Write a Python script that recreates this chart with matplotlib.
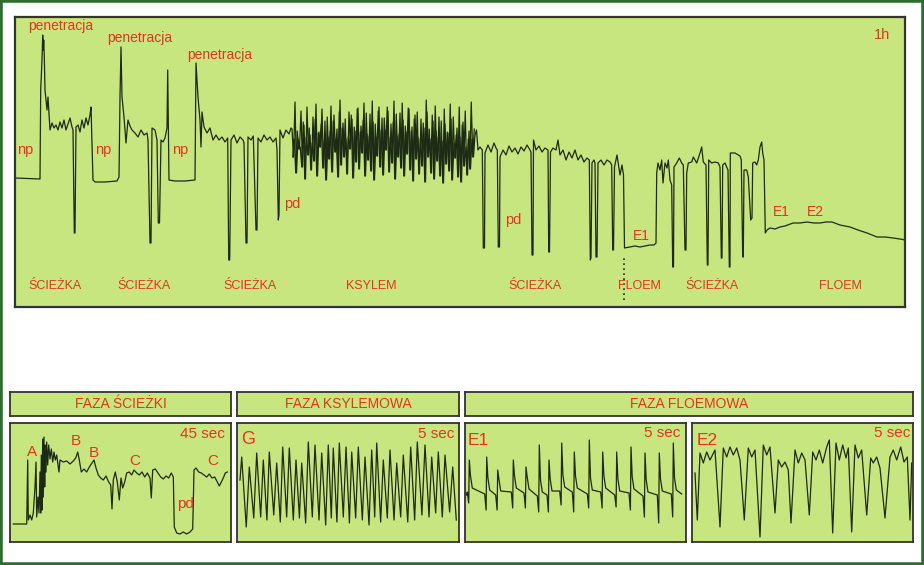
import numpy as np
import matplotlib.pyplot as plt
from matplotlib.patches import Rectangle

plt.rcParams['font.family'] = ['Liberation Sans', 'DejaVu Sans']

W, H = 924, 565
BG = '#c8e680'
RED = '#e5331d'
INK = '#1d2a14'
EDGE = '#333333'

# ---- 1h record: (time, level) samples ----
main_a = [(0, 129), (25, 128), (25.7, 217), (27, 247), (27.7, 272), (28.3, 257), (28.7, 267), (29.3, 250),
          (30, 217), (32, 197), (33, 210), (35, 177), (37, 184), (39, 179), (41, 182), (43, 177), (45, 185),
          (47, 179), (49, 187), (51, 177), (53, 183), (55, 189), (57, 180), (58, 177), (59.3, 74), (60, 74),
          (61, 180), (63, 182), (65, 175), (67, 187), (69, 179), (71, 189), (73, 182), (75, 192), (76, 200),
          (78, 127), (80, 125), (90, 125), (102, 126), (104, 130), (105, 210), (106, 260), (107, 210),
          (109, 190), (111, 164), (113, 187), (115, 181), (117, 177), (120, 174), (123, 170), (126, 177),
          (129, 172), (132, 174), (133, 167), (135, 64), (136, 64), (137, 179), (140, 177), (142, 167),
          (143.3, 84), (144.5, 84), (146, 167), (148, 165), (150, 169), (152, 179), (152.7, 237), (154, 127),
          (160, 126), (170, 126), (180, 127), (181, 244), (183, 210), (185, 187), (186, 160), (187, 195),
          (189, 180), (192, 174), (195, 179), (198, 167), (201, 172), (204, 167), (207, 170), (210, 165),
          (212.7, 169), (213.7, 47), (214.7, 47), (216, 167), (219, 172), (222, 164), (225, 170), (228, 167),
          (229, 164), (231, 64), (232, 64), (233, 170), (236, 167), (238.3, 171), (241, 77), (242, 77),
          (243, 169), (246, 165), (249, 172), (252, 167), (255, 170), (258, 165), (261, 169), (262, 157),
          (263.3, 87), (264, 92), (265, 177), (268, 169), (271, 177), (274, 173), (276, 179)]

# xylem phase: alternating highs / lows of the dense oscillation
dense_hi = [178, 205, 168, 196, 182, 200, 172, 190, 203, 175, 198, 186, 170, 201, 192, 178, 207, 184, 168, 195,
            188, 176, 199, 181, 204, 173, 193, 185, 170, 200, 189, 177, 196, 183, 206, 171, 194, 187, 175, 198,
            180, 192, 170, 188, 179, 195, 168, 186, 176, 190, 166, 183, 174, 188, 164, 179, 170, 185, 160, 176, 168]
dense_lo = [150, 134, 158, 140, 128, 152, 137, 146, 131, 160, 139, 127, 148, 135, 155, 130, 142, 150, 133, 158,
            129, 145, 138, 154, 131, 147, 136, 127, 151, 140, 132, 157, 135, 144, 128, 150, 139, 131, 153, 137,
            126, 148, 133, 141, 125, 150, 134, 128, 146, 131, 124, 143, 136, 127, 149, 130, 125, 141, 132, 138, 150]

main_b = [(460, 172), (461.5, 177), (463, 157), (465, 160), (467.3, 157), (468.3, 59), (469.5, 59), (470, 154),
          (473, 162), (476, 155), (479, 164), (481, 159), (482.3, 157), (483.3, 60), (484.5, 60), (485, 150),
          (488, 157), (491, 152), (494, 161), (497, 155), (500, 159), (503, 153), (506, 160), (509, 156),
          (512, 162), (515, 157), (516, 155), (517, 52), (518, 52), (518.5, 167), (521, 157), (524, 161),
          (527, 155), (530, 159), (533, 157), (533.7, 55), (534.5, 55), (535.5, 155), (538, 159), (541, 157),
          (543, 167), (545, 152), (548, 157), (551, 147), (554, 155), (557, 149), (560, 157), (563, 147),
          (566, 152), (569, 145), (572, 149), (574.3, 147), (575.3, 47), (576, 49), (577, 144), (579, 147),
          (580, 144), (581, 50), (582, 50), (583, 144), (586, 147), (589, 142), (592, 147), (595, 145),
          (596.7, 142), (597.7, 57), (598.5, 57), (599.5, 140), (602, 152), (605, 132), (607, 142),
          (608.5, 132), (609.5, 59), (615, 60), (620, 61), (625, 60), (630, 61), (635, 62), (639, 62),
          (641, 64), (641.7, 134), (643, 144), (645, 137), (646.7, 147), (648, 124), (650, 144), (652, 139),
          (653.3, 147), (655, 127), (656.7, 122), (657.7, 40), (658.5, 40), (659, 140), (661.7, 144),
          (664.3, 149), (666.7, 144), (668.3, 142), (670, 57), (671, 57), (671.7, 134), (673.3, 144),
          (676.7, 145), (678.3, 150), (681.7, 144), (685, 154), (686.7, 160), (688.3, 145), (691, 142),
          (692.3, 42), (693, 42), (693.7, 147), (696.7, 144), (700, 145), (703.3, 144), (705, 140),
          (706.3, 49), (707, 49), (707.7, 142), (710, 144), (711.7, 140), (713, 137), (714.3, 40), (715, 40),
          (715.3, 154), (720, 154), (725, 151), (726.3, 147), (727.7, 50), (728.3, 50), (729, 137),
          (731.7, 137), (733.3, 130), (735.7, 87), (737, 89), (737.7, 144), (740, 145), (741.7, 142),
          (743.3, 147), (745, 160), (746.7, 165), (747.7, 154), (749, 147), (750.3, 74), (752, 77), (755, 79),
          (760, 78), (765, 80), (770, 81), (778, 84), (785, 84), (792, 85), (799, 84), (805, 84), (811, 85),
          (817, 85), (825, 82), (835, 80), (843, 77), (852, 74), (862, 70), (870, 70), (878, 69), (885, 68),
          (890, 67)]

floem_start = 609

# ---- pathway phase, 45 sec ----
path_trace = [(3.3, 18), (16.7, 18), (17.7, 82), (18.3, 22), (20, 27), (21.7, 22), (23.3, 29), (25, 55),
              (26, 80), (26.7, 25), (28, 45), (29, 29), (30, 70), (30.7, 29), (31.3, 87), (32, 32), (32.7, 103),
              (33.3, 45), (34, 105), (34.7, 55), (35.3, 97), (36, 70), (36.7, 100), (37.7, 77), (38.7, 97),
              (40, 83), (41.3, 93), (42.7, 80), (44, 90), (45.3, 82), (46.7, 87), (48, 77), (49, 70), (50, 82),
              (53.3, 80), (56.7, 81), (60, 78), (63.3, 81), (65.7, 84), (67.7, 90), (69.3, 82), (71.3, 70),
              (74, 73), (76.7, 70), (79.3, 75), (82, 79), (84, 82), (86, 74), (88.3, 67), (90.7, 64), (93.3, 62),
              (96, 66), (98.7, 60), (100.7, 57), (102, 33), (103.3, 62), (105.3, 70), (107.3, 60), (109.3, 42),
              (111, 64), (112.7, 54), (114.7, 60), (116.7, 69), (119.3, 70), (121.7, 67), (124, 72),
              (126.7, 69), (129.3, 67), (132, 70), (134.7, 65), (137.3, 69), (140, 64), (141.3, 44),
              (142.7, 72), (145.3, 73), (148, 69), (150.7, 65), (153.3, 63), (156, 66), (158.7, 64),
              (161.3, 69), (163.3, 65), (164.3, 15), (166.7, 9), (170, 8), (173.3, 10), (176.7, 8), (180, 10),
              (182.7, 13), (184, 72), (186, 74), (188.7, 70), (191.3, 69), (194, 67), (196.7, 65), (199.3, 68),
              (202, 64), (204.7, 65), (207.3, 60), (209.3, 56), (211.3, 60), (213.3, 64), (215.3, 69),
              (217.3, 70)]

# ---- xylem phase (G), 5 sec ----
g_peak_t = [4.7, 12.3, 19.7, 26.3, 32.3, 39.7, 45.7, 52.3, 59, 64.7, 71.3, 78, 84.7, 91.3, 96.3, 102.3, 109,
            114.7, 121.3, 128, 134.7, 139.7, 146.3, 153, 159.7, 166.3, 173.7, 180.3, 188, 194.7, 201.3, 208, 215.7]
g_peak = [85, 75, 89, 82, 90, 79, 95, 94, 82, 79, 100, 97, 89, 97, 94, 99, 95, 90, 95, 85, 92, 99, 82, 92, 79,
          87, 95, 100, 97, 85, 90, 87, 75]
g_trough = [15, 24, 25, 22, 27, 20, 25, 22, 24, 19, 25, 22, 17, 24, 20, 25, 19, 24, 22, 17, 25, 20, 24, 22, 25,
            20, 22, 27, 25, 29, 25, 30, 22]

# ---- phloem phase E1, 5 sec ----
e1_t = [4.3, 21.7, 32.7, 48.3, 61, 74.3, 84, 96.7, 109.3, 124.3, 137.7, 151.7, 166, 180, 194.3, 208.3]
e1_top = [82, 85, 72, 82, 75, 97, 82, 99, 90, 102, 90, 90, 95, 89, 89, 99]
e1_dip = [39, 32, 32, 34, 34, 30, 30, 37, 30, 34, 34, 35, 32, 25, 19, 25]
e1_base = [50, 48, 47, 50, 49, 46, 47, 51, 50, 48, 50, 47, 49, 46, 47, 48]

# ---- phloem phase E2, 5 sec ----
e2_t = [3, 5.3, 8, 11.3, 14.7, 18, 23, 28, 31.3, 34.7, 38, 41.3, 44.7, 48, 52.3, 56.3, 59.7, 63, 68, 71.3,
        74.7, 78, 83, 86.3, 89.7, 93, 96.3, 99, 103, 106.3, 109.7, 113, 117.3, 120.7, 124, 127.3, 130.7, 134.7,
        137.3, 140.7, 144, 147.3, 150.7, 154, 156.3, 159.7, 163, 166.3, 169.7, 174.7, 178.7, 181.3, 184.7, 188,
        193, 198, 201.3, 204.7, 208.7, 212, 215.3, 218, 219.7]
e2_v = [69, 22, 89, 79, 90, 82, 92, 15, 94, 85, 95, 87, 94, 82, 22, 94, 85, 92, 5, 97, 87, 95, 29, 82, 75, 80,
        72, 19, 92, 79, 89, 82, 27, 90, 82, 92, 79, 95, 102, 9, 99, 82, 97, 84, 94, 10, 97, 84, 92, 27, 84, 79,
        85, 74, 24, 85, 92, 82, 95, 80, 85, 22, 79]


def box(x0, y0, x1, y1):
    return [x0 / W, 1 - y1 / H, (x1 - x0) / W, (y1 - y0) / H]


def panel(x0, y0, x1, y1, lw=1.3):
    ax = fig.add_axes(box(x0, y0, x1, y1))
    ax.set_facecolor(BG)
    ax.set_xlim(0, x1 - x0)
    ax.set_ylim(0, y1 - y0)
    ax.set_xticks([])
    ax.set_yticks([])
    for s in ax.spines.values():
        s.set_color(EDGE)
        s.set_linewidth(lw)
    return ax


fig = plt.figure(figsize=(W / 100, H / 100), dpi=100)
fig.patches.append(Rectangle((0, 0), 1, 1, transform=fig.transFigure, fill=False,
                             edgecolor='#2b6e2e', lw=4))

# main record
ax = panel(15, 17, 905, 307, lw=1.6)
ta, va = np.array(main_a).T
tb, vb = np.array(main_b).T
n = len(dense_hi)
td = 277 + 1.5 * np.arange(2 * n)
vd = np.ravel(np.column_stack([dense_hi, dense_lo]))
vd2 = np.ravel(np.column_stack([dense_lo, dense_hi[::-1]]))
t = np.concatenate([ta, td, tb])
v = np.concatenate([va, vd, vb])
ax.plot(t, v, color=INK, lw=0.9)
# second pen pass fills the dark core of the xylem band
ax.plot(td + 0.75, vd2, color=INK, lw=0.9)
ax.vlines(floem_start, 7, 52, color=INK, lw=1.2, linestyles=(0, (1, 2)))

kw = dict(color=RED, ha='center', va='center')
for x, y in [(46, 281), (125, 269), (205, 252)]:
    ax.text(x, y, 'penetracja', fontsize=10, **kw)
for x in [10, 88, 165]:
    ax.text(x, 157, 'np', fontsize=10.5, **kw)
ax.text(277, 103, 'pd', fontsize=10.5, **kw)
ax.text(498, 87, 'pd', fontsize=10.5, **kw)
for x, s in [(40, 'ŚCIEŻKA'), (129, 'ŚCIEŻKA'), (235, 'ŚCIEŻKA'), (356, 'KSYLEM'), (520, 'ŚCIEŻKA'),
             (624, 'FLOEM'), (697, 'ŚCIEŻKA'), (825, 'FLOEM')]:
    ax.text(x, 21, s, fontsize=9, **kw)
ax.text(875, 272, '1h', fontsize=10.5, color=RED, ha='right', va='center')
ax.text(626, 71, 'E1', fontsize=10, **kw)
ax.text(766, 95, 'E1', fontsize=10, **kw)
ax.text(800, 95, 'E2', fontsize=10, **kw)

# phase headers
for x0, x1, s in [(10, 231, 'FAZA ŚCIEŻKI'), (237, 459, 'FAZA KSYLEMOWA'), (465, 913, 'FAZA FLOEMOWA')]:
    hx = panel(x0, 392, x1, 416, lw=1.3)
    hx.text(0.5, 0.5, s, transform=hx.transAxes, fontsize=10, **kw)

# pathway
p1 = panel(10, 423, 231, 542)
pt, pv = np.array(path_trace).T
p1.plot(pt, pv, color=INK, lw=0.9)
p1.text(215, 108, '45 sec', fontsize=11, color=RED, ha='right', va='center')
for x, y, s in [(22, 90, 'A'), (66, 101, 'B'), (84, 89, 'B'), (125, 81, 'C'), (203, 81, 'C'), (175, 38, 'pd')]:
    p1.text(x, y, s, fontsize=11, **kw)

# xylem G
p2 = panel(237, 423, 459, 542)
gt = [3]
gv = [62]
for i in range(len(g_peak)):
    gt.append(g_peak_t[i])
    gv.append(g_peak[i])
    nxt = g_peak_t[i + 1] if i + 1 < len(g_peak_t) else g_peak_t[i] + 6
    gt.append(g_peak_t[i] + 0.6 * (nxt - g_peak_t[i]))
    gv.append(g_trough[i])
p2.plot(gt, gv, color=INK, lw=0.9)
p2.text(11, 102, 'G', fontsize=13, **kw)
p2.text(217, 108, '5 sec', fontsize=11, color=RED, ha='right', va='center')

# phloem E1
p3 = panel(465, 423, 686, 542)
et = [1.5]
ev = [47]
for i in range(len(e1_t)):
    s = e1_t[i]
    et += [s - 2, s - 0.6, s, s + 1.2, s + 3]
    ev += [e1_base[i], e1_dip[i], e1_top[i], e1_base[i] + 16, e1_base[i] + 4]
et.append(216.7)
ev.append(48)
p3.plot(et, ev, color=INK, lw=0.9)
p3.text(13, 101, 'E1', fontsize=12.5, **kw)
p3.text(215, 109, '5 sec', fontsize=11, color=RED, ha='right', va='center')

# phloem E2
p4 = panel(692, 423, 913, 542)
p4.plot(e2_t, e2_v, color=INK, lw=0.9)
p4.text(14.7, 101, 'E2', fontsize=12.5, **kw)
p4.text(218, 109, '5 sec', fontsize=11, color=RED, ha='right', va='center')

fig.savefig('out.png', dpi=100, facecolor='white')
